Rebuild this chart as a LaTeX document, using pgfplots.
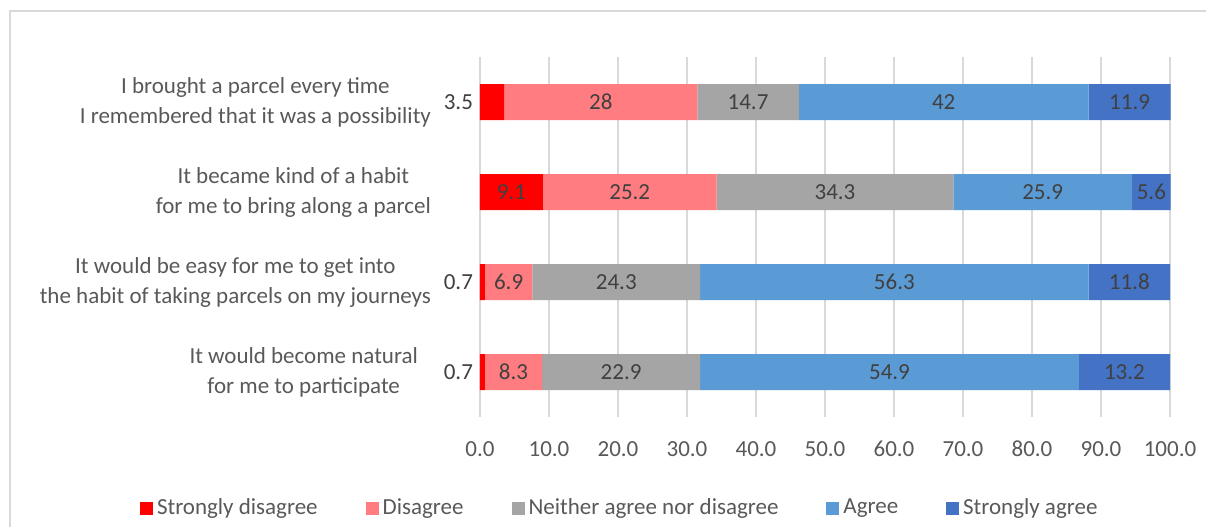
\documentclass[border=0pt]{standalone}
\usepackage{pgfplots}
\pgfplotsset{compat=1.18}
\usepackage{fontspec}
\setmainfont{Carlito}

\definecolor{sdis}{HTML}{FF0000}
\definecolor{dis}{HTML}{FF7C80}
\definecolor{neu}{HTML}{A5A5A5}
\definecolor{agr}{HTML}{5B9BD5}
\definecolor{sagr}{HTML}{4472C4}
\definecolor{gridgray}{HTML}{D9D9D9}
\definecolor{labgray}{HTML}{595959}
\definecolor{valgray}{HTML}{404040}

\newcommand{\chartfont}{\fontsize{11.5}{15}\selectfont}

% shared geometry of the plot area: 345pt for 100 units
\pgfplotsset{
  plotarea/.style={
    at={(240pt,-208.5pt)}, anchor=south west,
    scale only axis, width=345pt, height=180pt,
    xmin=0, xmax=100, ymin=0.5, ymax=4.5,
  },
}

\begin{document}
\begin{tikzpicture}[x=1pt,y=1pt]
\useasboundingbox (0,0) rectangle (603,-263);
\fill[white] (0,0) rectangle (603,-263);
% chart frame
\draw[gridgray, line width=0.7pt] (5,-400) -- (5,-5.5) -- (800,-5.5);

\begin{axis}[
  plotarea,
  clip=false,
  xbar stacked, bar width=18pt,
  xtick={0,10,...,100},
  ytick={1,2,3,4},
  yticklabels={{It would become natural\hspace*{6.5pt}\\for me to participate\hspace*{6.5pt}},
               {It would be easy for me to get into\\the habit of taking parcels on my journeys},
               {It became kind of a habit\\for me to bring along a parcel},
               {I brought a parcel every time\\I remembered that it was a possibility}},
  yticklabel style={align=center, text=labgray, font=\chartfont, xshift=-21pt},
  xticklabel style={text=labgray, font=\chartfont, yshift=-8.5pt,
    /pgf/number format/fixed, /pgf/number format/fixed zerofill,
    /pgf/number format/precision=1},
  /pgf/number format/assume math mode=true,
  axis line style={draw=none},
  major tick length=0pt,
  xmajorgrids, grid style={gridgray, line width=0.75pt},
  point meta=explicit symbolic,
  nodes near coords,
  every node near coord/.append style={anchor=center, text=valgray, font=\chartfont},
  legend columns=5,
  legend style={at={(axis description cs:0.204,-0.253)}, anchor=center,
    draw=none, fill=none, font=\chartfont, text=labgray,
    /tikz/every odd column/.append style={column sep=0pt},
    /tikz/every even column/.append style={column sep=22pt}},
  legend image code/.code={\fill[#1] (0pt,-3.25pt) rectangle (6.5pt,3.25pt);},
]
\addplot[fill=sdis, draw=none] coordinates {(0.7,1)[] (0.7,2)[] (9.1,3)[9.1] (3.5,4)[]};
\addplot[fill=dis, draw=none] coordinates {(8.3,1)[8.3] (6.9,2)[6.9] (25.2,3)[25.2] (28,4)[28]};
\addplot[fill=neu, draw=none] coordinates {(22.9,1)[22.9] (24.3,2)[24.3] (34.3,3)[34.3] (14.7,4)[14.7]};
\addplot[fill=agr, draw=none] coordinates {(54.9,1)[54.9] (56.3,2)[56.3] (25.9,3)[25.9] (42,4)[42]};
\addplot[fill=sagr, draw=none] coordinates {(13.2,1)[13.2] (11.8,2)[11.8] (5.6,3)[5.6] (11.9,4)[11.9]};
\legend{Strongly disagree, Disagree, Neither agree nor disagree, Agree, Strongly agree}
\end{axis}

% values of the thinnest "Strongly disagree" segments, set left of the bars
\begin{axis}[plotarea, hide axis]
\addplot[only marks, mark=none, point meta=explicit symbolic,
  nodes near coords,
  every node near coord/.append style={anchor=east, text=valgray, font=\chartfont}]
  coordinates {(0,1)[0.7] (0,2)[0.7] (0,4)[3.5]};
\end{axis}
\end{tikzpicture}
\end{document}
